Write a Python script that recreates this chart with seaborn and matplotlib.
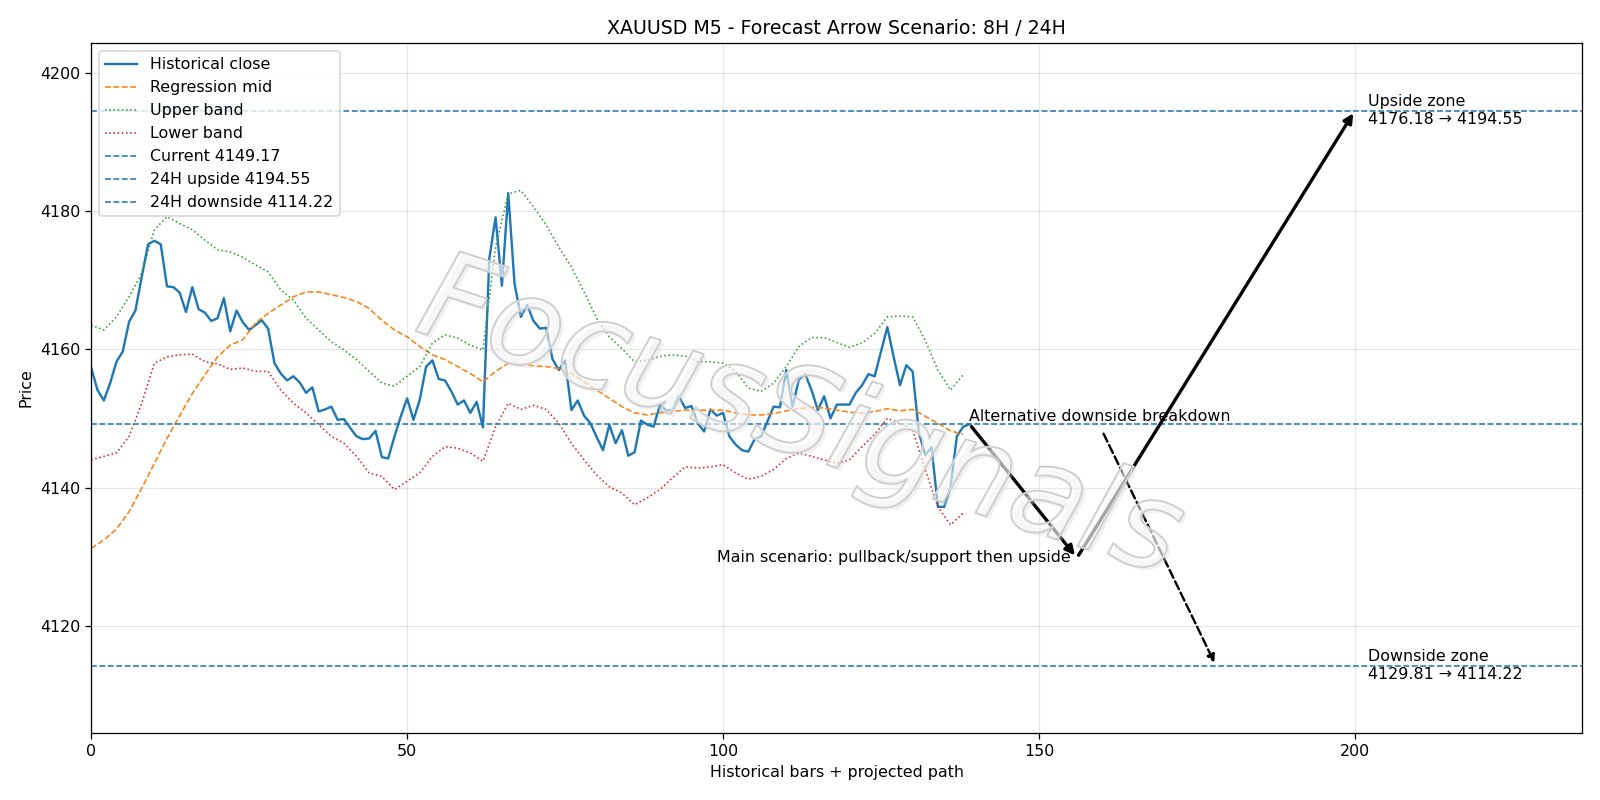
import matplotlib
matplotlib.use('Agg')
import matplotlib.pyplot as plt
import matplotlib.patheffects as pe
import seaborn as sns
import numpy as np

# --- data ---
close = [
    4157.3, 4154.1, 4152.6, 4155.1, 4158.2, 4159.7, 4164.0, 4165.6, 4170.5, 4175.2,
    4175.7, 4175.2, 4169.1, 4169.0, 4168.2, 4165.4, 4169.0, 4165.8, 4165.3, 4164.1,
    4164.5, 4167.4, 4162.6, 4165.6, 4163.9, 4162.8, 4163.5, 4164.2, 4163.0, 4158.0,
    4156.5, 4155.5, 4156.1, 4155.2, 4153.7, 4154.5, 4151.0, 4151.3, 4151.7, 4149.8,
    4149.9, 4148.6, 4147.4, 4147.0, 4147.1, 4148.2, 4144.4, 4144.2, 4147.4, 4150.3,
    4152.9, 4149.8, 4152.7, 4157.5, 4158.4, 4155.7, 4155.5, 4153.9, 4152.0, 4152.6,
    4150.8, 4152.4, 4148.7, 4173.1, 4179.1, 4169.2, 4182.6, 4169.5, 4164.7, 4166.4,
    4164.1, 4163.0, 4163.1, 4158.6, 4157.0, 4158.4, 4151.2, 4152.6, 4150.4, 4149.3,
    4147.3, 4145.4, 4149.1, 4146.4, 4148.3, 4144.6, 4145.1, 4149.7, 4149.1, 4148.8,
    4151.9, 4151.2, 4151.2, 4153.2, 4151.5, 4151.8, 4149.3, 4148.1, 4151.3, 4150.4,
    4150.8, 4147.4, 4146.2, 4145.4, 4145.2, 4147.0, 4147.4, 4149.5, 4151.7, 4151.6,
    4157.0, 4151.7, 4155.6, 4156.4, 4154.1, 4151.2, 4153.2, 4150.0, 4152.0, 4152.0,
    4152.0, 4153.7, 4154.8, 4156.4, 4156.1, 4159.7, 4163.2, 4158.9, 4154.8, 4157.7,
    4156.8, 4147.9, 4144.7, 4145.8, 4137.2, 4137.2, 4140.1, 4147.4, 4148.8, 4149.17,
]
bars = list(range(len(close)))

band_x = list(range(0, 139, 2))
mid = [
    4131.2, 4132.4, 4134.0, 4136.5, 4139.9, 4143.5, 4147.1, 4150.4, 4153.6, 4156.3,
    4158.9, 4160.6, 4161.4, 4163.8, 4165.2, 4166.4, 4167.6, 4168.3, 4168.3, 4167.9,
    4167.5, 4166.9, 4165.9, 4164.2, 4162.8, 4161.8, 4160.4, 4159.2, 4158.5, 4157.5,
    4156.5, 4155.3, 4156.8, 4158.0, 4157.9, 4157.6, 4157.5, 4157.2, 4156.5, 4155.3,
    4154.1, 4152.9, 4151.7, 4150.8, 4150.5, 4150.8, 4151.0, 4151.2, 4151.2, 4151.2,
    4151.2, 4150.8, 4150.5, 4150.5, 4150.7, 4151.1, 4151.4, 4151.6, 4151.5, 4151.2,
    4150.9, 4150.8, 4151.0, 4151.4, 4151.1, 4151.3, 4150.3, 4149.3, 4148.2, 4147.7,
]
upper = [
    4163.5, 4162.8, 4164.7, 4167.6, 4171.0, 4177.3, 4179.2, 4178.2, 4177.3, 4175.8,
    4174.4, 4174.1, 4173.3, 4172.2, 4171.2, 4168.6, 4167.1, 4164.5, 4162.8, 4161.1,
    4159.9, 4158.5, 4156.8, 4155.1, 4154.7, 4156.1, 4157.5, 4160.9, 4162.1, 4161.6,
    4160.6, 4159.9, 4174.8, 4182.5, 4183.0, 4180.6, 4178.0, 4174.8, 4171.9, 4168.3,
    4164.5, 4161.8, 4160.1, 4158.2, 4158.4, 4159.0, 4159.2, 4159.0, 4158.2, 4158.2,
    4158.0, 4156.8, 4154.4, 4153.9, 4155.1, 4157.5, 4160.4, 4161.7, 4161.7, 4161.0,
    4160.3, 4160.9, 4162.3, 4164.7, 4164.8, 4164.7, 4161.3, 4157.0, 4154.1, 4156.3,
]
lower = [
    4144.0, 4144.5, 4145.0, 4147.4, 4152.2, 4158.0, 4158.9, 4159.2, 4159.3, 4158.2,
    4157.9, 4157.1, 4157.3, 4156.8, 4156.8, 4154.1, 4152.2, 4150.8, 4149.1, 4147.4,
    4146.4, 4144.5, 4142.1, 4141.6, 4139.7, 4140.9, 4142.1, 4144.5, 4145.9, 4145.7,
    4145.0, 4143.8, 4148.8, 4152.2, 4151.3, 4151.9, 4151.3, 4149.3, 4146.4, 4144.0,
    4141.8, 4140.1, 4139.2, 4137.5, 4138.5, 4139.7, 4141.4, 4143.0, 4142.8, 4143.0,
    4143.3, 4142.1, 4141.2, 4141.6, 4142.6, 4144.2, 4145.0, 4144.5, 4144.0, 4143.5,
    4144.0, 4145.9, 4147.7, 4150.0, 4149.3, 4148.3, 4142.6, 4137.2, 4134.6, 4136.3,
]

current = 4149.17
up_24h = 4194.55
down_24h = 4114.22
up_8h = 4176.18
down_8h = 4129.81

main_path_x = [139, 156, 200]
main_path_y = [current, down_8h, up_24h]
alt_path_x = [160, 178]
alt_path_y = [4148.2, down_24h]

fig, ax = plt.subplots(figsize=(14, 7), dpi=1600 / 14)
fig.subplots_adjust(left=0.057, right=0.989, top=0.946, bottom=0.084)

sns.lineplot(x=bars, y=close, ax=ax, color='C0', linewidth=1.5, label='Historical close')
sns.lineplot(x=band_x, y=mid, ax=ax, color='C1', linewidth=1.0, linestyle='--', label='Regression mid')
sns.lineplot(x=band_x, y=upper, ax=ax, color='C2', linewidth=1.0, linestyle=':', label='Upper band')
sns.lineplot(x=band_x, y=lower, ax=ax, color='C3', linewidth=1.0, linestyle=':', label='Lower band')

ax.axhline(current, color='C0', linestyle='--', linewidth=1.0, label=f'Current {current:.2f}')
ax.axhline(up_24h, color='C0', linestyle='--', linewidth=1.0, label=f'24H upside {up_24h:.2f}')
ax.axhline(down_24h, color='C0', linestyle='--', linewidth=1.0, label=f'24H downside {down_24h:.2f}')

# projected paths
for i in range(len(main_path_x) - 1):
    ax.annotate('', xy=(main_path_x[i + 1], main_path_y[i + 1]),
                xytext=(main_path_x[i], main_path_y[i]),
                arrowprops=dict(arrowstyle='-|>', color='black', lw=2.1, mutation_scale=12))
ax.annotate('', xy=(alt_path_x[1], alt_path_y[1]), xytext=(alt_path_x[0], alt_path_y[0]),
            arrowprops=dict(arrowstyle='-|>', color='black', lw=1.5, linestyle='--',
                            mutation_scale=10))

ax.text(main_path_x[1] - 1, down_8h, 'Main scenario: pullback/support then upside',
        ha='right', va='center', fontsize=10)
ax.text(main_path_x[0], current, 'Alternative downside breakdown', ha='left', va='bottom', fontsize=10)
ax.text(202, up_24h, f'Upside zone\n{up_8h:.2f} → {up_24h:.2f}', ha='left', va='center', fontsize=10)
ax.text(202, down_24h, f'Downside zone\n{down_8h:.2f} → {down_24h:.2f}', ha='left', va='center', fontsize=10)

# watermark
ax.text(0.475, 0.453, 'FocusSignals', transform=ax.transAxes, fontsize=77, style='italic',
        color=(1, 1, 1, 0.3), rotation=-18, ha='center', va='center', zorder=10,
        path_effects=[pe.SimplePatchShadow(offset=(2, -2), shadow_rgbFace='#d4d4d4', alpha=0.35),
                      pe.Stroke(linewidth=1.3, foreground='#c9c9c9'), pe.Normal()])

ax.set_xlim(0, 236)
ax.set_ylim(4104.5, 4204.3)
ax.set_title('XAUUSD M5 - Forecast Arrow Scenario: 8H / 24H', fontsize=12)
ax.set_xlabel('Historical bars + projected path')
ax.set_ylabel('Price')
ax.grid(True, alpha=0.3)
ax.legend(loc='upper left')

plt.savefig('out.png')
plt.close()
